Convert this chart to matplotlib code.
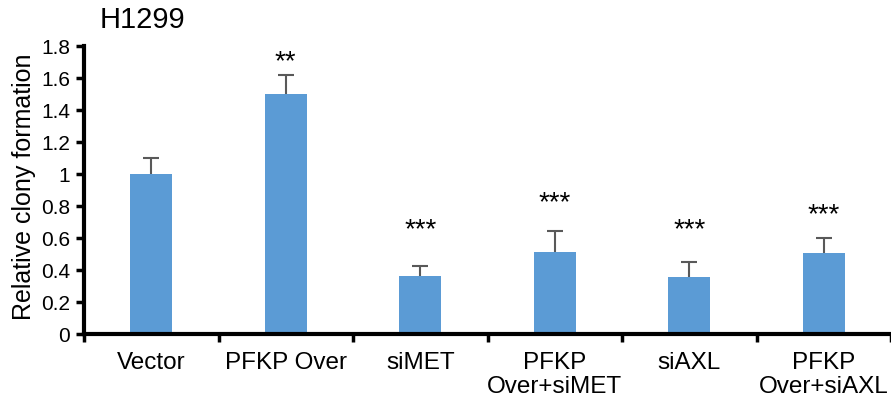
import numpy as np
import matplotlib
matplotlib.use('Agg')
import matplotlib.pyplot as plt

plt.rcParams['font.family'] = ['Liberation Sans', 'DejaVu Sans']

groups = ['Vector', 'PFKP Over', 'siMET', 'PFKP\nOver+siMET', 'siAXL', 'PFKP\nOver+siAXL']
means = [1.0, 1.5, 0.365, 0.515, 0.355, 0.505]
errs = [0.10, 0.12, 0.062, 0.13, 0.098, 0.092]
stars = ['', '**', '***', '***', '***', '***']
star_y = [None, 1.70, 0.65, 0.82, 0.65, 0.74]

fig = plt.figure(figsize=(8.91, 4.05), dpi=100)
ax = fig.add_axes([84 / 891, 71 / 405, 807 / 891, 288 / 405])

x = np.arange(len(groups))
ax.bar(x, means, width=0.31, color='#5B9BD5', zorder=2)
eb = ax.errorbar(x, means, yerr=[np.zeros(len(errs)), errs], fmt='none',
                 ecolor='#595959', elinewidth=1.5, capsize=6, capthick=1.5, zorder=3)
# only the upper cap is wanted
eb[1][0].set_visible(False)

for xi, s, sy in zip(x, stars, star_y):
    if s:
        ax.text(xi, sy, s, ha='center', va='center', fontsize=20)

ax.set_xlim(-0.5, len(groups) - 0.5)
ax.set_ylim(0, 1.8)
ax.set_yticks(np.arange(0, 1.81, 0.2))
ax.set_yticklabels(['0', '0.2', '0.4', '0.6', '0.8', '1', '1.2', '1.4', '1.6', '1.8'], fontsize=15)
ax.set_xticks(x)
ax.set_xticklabels(groups, fontsize=17.5, linespacing=1.1)
ax.tick_params(axis='x', length=0, pad=13)
ax.set_xticks(np.arange(-0.5, len(groups)), minor=True)
ax.tick_params(axis='x', which='minor', length=6, width=2.5, direction='out')
ax.tick_params(axis='y', length=6, width=2.5, direction='out', pad=4)

for side in ['top', 'right']:
    ax.spines[side].set_visible(False)
for side in ['left', 'bottom']:
    ax.spines[side].set_linewidth(3)

ax.set_ylabel('Relative clony formation', fontsize=18)
ax.yaxis.set_label_coords(-0.059, 0.51)
fig.text(100 / 891, 1 - 20 / 405, 'H1299', fontsize=21, ha='left', va='center')

fig.savefig('out.png', dpi=100)
